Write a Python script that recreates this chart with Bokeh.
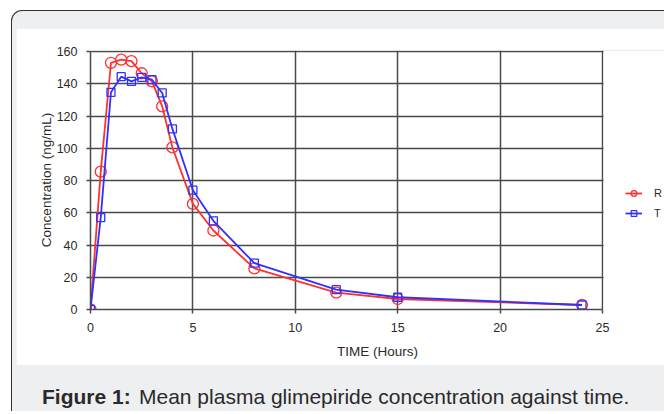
from bokeh.plotting import figure
from bokeh.layouts import column
from bokeh.models import Legend, LegendItem, Label, Range1d, FixedTicker, BoxAnnotation
from bokeh.embed import file_html
from bokeh.resources import INLINE

# ---- data ----
time_h = [0, 0.5, 1, 1.5, 2, 2.5, 3, 3.5, 4, 5, 6, 8, 12, 15, 24]
conc_R = [0, 85.5, 153, 155, 154, 146.5, 141.5, 126, 100.5, 65.5, 49, 25.5, 10.5, 6.5, 2.8]
conc_T = [0, 57, 134.7, 144.4, 141.5, 144, 142.5, 134.3, 112, 74, 55, 28.7, 12.3, 7.6, 2.8]
x_ticks = [0, 5, 10, 15, 20, 25]
y_ticks = [0, 20, 40, 60, 80, 100, 120, 140, 160]
series_names = ["R", "T"]
caption_bold = "Figure 1:"
caption_text = "Mean plasma glimepiride concentration against time."

RED = "#ff3030"
BLUE = "#3030ff"
GRID = "#4a4a4a"
TXT = "#2a2a2a"
PANEL_BG = "#eeeff1"
FONT = "Liberation Sans"

# layout: plot area 512 px wide for 0..25 h, legend lives in the extra room on the right
X_MAX, Y_MAX = x_ticks[-1], y_ticks[-1]
AREA_W, EXTRA_W = 512, 62
AREA_H, EXTRA_H = 258, 1
x_end = X_MAX * (AREA_W + EXTRA_W) / AREA_W
y_end = Y_MAX * (AREA_H + EXTRA_H) / AREA_H

p = figure(frame_width=AREA_W + EXTRA_W, frame_height=AREA_H + EXTRA_H,
           x_range=Range1d(0, x_end), y_range=Range1d(0, y_end),
           output_backend="svg", toolbar_location=None,
           min_border_left=74, min_border_right=0,
           min_border_top=23 - EXTRA_H, min_border_bottom=56)
p.background_fill_color = "white"
p.border_fill_color = "white"
p.outline_line_color = None

p.xaxis.ticker = FixedTicker(ticks=x_ticks)
p.yaxis.ticker = FixedTicker(ticks=y_ticks)
p.xgrid.ticker = FixedTicker(ticks=x_ticks)
p.ygrid.ticker = FixedTicker(ticks=y_ticks)
for g in (p.xgrid, p.ygrid):
    g.grid_line_color = GRID
    g.grid_line_width = 1.5
    g.grid_line_alpha = 1.0

for ax in (p.xaxis, p.yaxis):
    ax.axis_line_color = GRID
    ax.axis_line_width = 1.5
    ax.major_tick_line_color = GRID
    ax.major_tick_line_width = 1.5
    ax.major_tick_out = 4
    ax.major_tick_in = 0
    ax.minor_tick_line_color = None
    ax.major_label_text_font = FONT
    ax.major_label_text_font_size = "12.5px"
    ax.major_label_text_color = TXT
    ax.axis_label_text_font = FONT
    ax.axis_label_text_font_size = "13.5px"
    ax.axis_label_text_font_style = "normal"
    ax.axis_label_text_color = TXT

p.xaxis.bounds = (0, X_MAX)
p.yaxis.bounds = (0, Y_MAX)
p.xaxis.axis_label = "TIME (Hours)"
p.yaxis.axis_label = "Concentration (ng/mL)"
p.xaxis.axis_label_text_align = "right"
p.xaxis.major_label_standoff = 9
p.yaxis.major_label_standoff = 9
p.xaxis.axis_label_standoff = 9
p.yaxis.axis_label_standoff = 0

# blank out the grid beyond the last x tick (legend area)
p.add_layout(BoxAnnotation(left=X_MAX + X_MAX / AREA_W, fill_color="white", fill_alpha=1.0,
                           line_color=None))

r_line = p.line(time_h, conc_R, line_color=RED, line_width=1.8)
r_pts = p.scatter(time_h, conc_R, marker="circle", size=11, line_color=RED,
                  fill_color=None, line_width=1.3)
t_line = p.line(time_h, conc_T, line_color=BLUE, line_width=1.8)
t_pts = p.scatter(time_h, conc_T, marker="square", size=8, line_color=BLUE,
                  fill_color=None, line_width=1.3)

legend = Legend(items=[LegendItem(label=series_names[0], renderers=[r_line, r_pts]),
                       LegendItem(label=series_names[1], renderers=[t_line, t_pts])],
                location=(535, 89), orientation="vertical",
                glyph_width=17, glyph_height=14, spacing=6, padding=0, margin=0,
                label_standoff=12, label_width=10, label_height=14,
                label_text_font=FONT, label_text_font_size="11px",
                label_text_color=TXT, border_line_color=None,
                background_fill_alpha=0.0)
p.add_layout(legend, "center")

# ---- caption strip ----
cap = figure(width=648, height=46, x_range=Range1d(0, 648), y_range=Range1d(0, 46),
             output_backend="svg", toolbar_location=None, min_border=0)
cap.frame_align = False
cap.axis.visible = False
cap.grid.visible = False
cap.outline_line_color = None
cap.background_fill_color = PANEL_BG
cap.border_fill_color = PANEL_BG
cap.add_layout(Label(x=25.5, y=15, text=caption_bold, text_font=FONT, text_font_size="21px",
                     text_font_style="bold", text_color=TXT, text_baseline="alphabetic"))
cap.add_layout(Label(x=122.5, y=15, text=caption_text, text_font=FONT, text_font_size="21px",
                     text_color=TXT, text_baseline="alphabetic"))

p.margin = (17, 0, 0, 4)
cap.margin = (0, 0, 0, 4)

root = column(p, cap, margin=(10, 0, 0, 11),
              styles={"background-color": PANEL_BG,
                      "border-top": "1.5px solid #333",
                      "border-left": "1.5px solid #333",
                      "border-top-left-radius": "11px"})

open("out.html", "w").write(file_html(root, INLINE))
